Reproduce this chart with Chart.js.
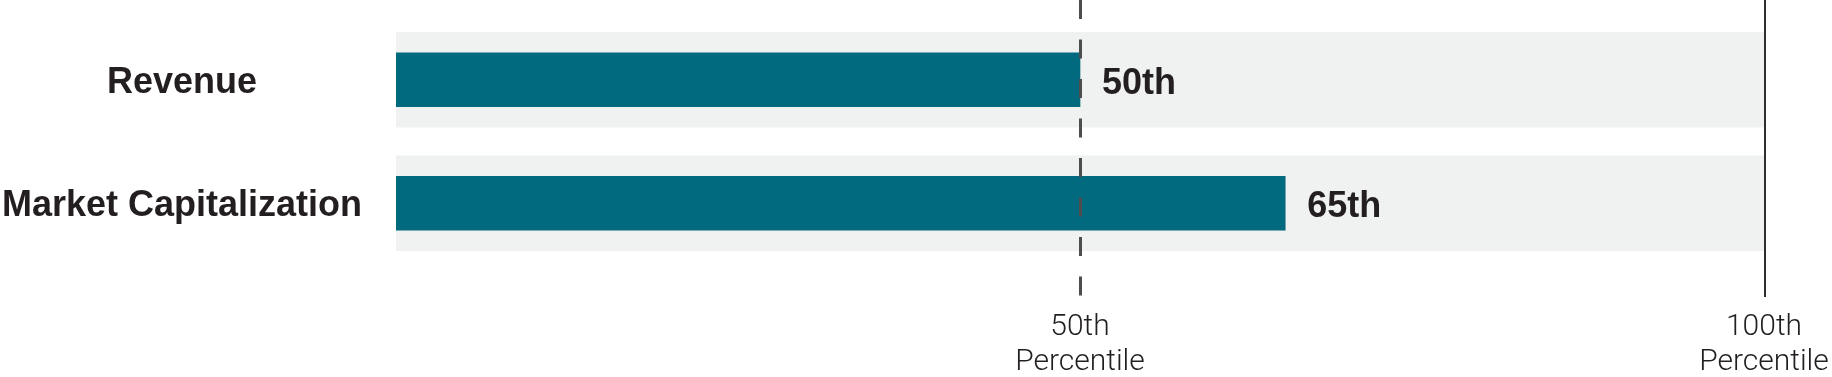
<!DOCTYPE html>
<html>
<head>
<meta charset="utf-8">
<script src="https://cdn.jsdelivr.net/npm/chart.js@4"></script>
<style>
  html, body { margin: 0; padding: 0; background: #ffffff; }
  #wrap { width: 1832px; height: 377px; }
</style>
</head>
<body>
<div id="wrap"><canvas id="c" width="1832" height="377"></canvas></div>
<script>
const categories = ['Revenue', 'Market Capitalization'];
const percentileValues = [50, 65];
const valueLabels = ['50th', '65th'];
const trackValues = [100, 100];
const tickValues = [50, 100];
const tickLabels = [['50th', 'Percentile'], ['100th', 'Percentile']];
const medianValue = 50;
const maxValue = 100;

function zeroPadding(scale) {
  scale.paddingTop = 0;
  scale.paddingBottom = 0;
  scale.paddingLeft = 0;
  scale.paddingRight = 0;
}

const refLines = {
  id: 'refLines',
  afterDatasetsDraw(chart) {
    const ctx = chart.ctx;
    const x = chart.scales.x;
    const xm = x.getPixelForValue(medianValue);
    const xe = x.getPixelForValue(maxValue);
    ctx.save();
    ctx.strokeStyle = '#4d4d4f';
    ctx.lineWidth = 3;
    ctx.setLineDash([19, 20.5]);
    ctx.beginPath();
    ctx.moveTo(xm + 0.5, 0);
    ctx.lineTo(xm + 0.5, 297);
    ctx.stroke();
    ctx.setLineDash([]);
    ctx.strokeStyle = '#2e2e30';
    ctx.lineWidth = 2;
    ctx.beginPath();
    ctx.moveTo(xe + 1, 0);
    ctx.lineTo(xe + 1, 297);
    ctx.stroke();
    ctx.restore();

    const meta = chart.getDatasetMeta(0);
    ctx.save();
    ctx.fillStyle = '#231f20';
    ctx.font = 'bold 36px "Liberation Sans", Arial, sans-serif';
    ctx.textAlign = 'left';
    ctx.textBaseline = 'middle';
    meta.data.forEach((bar, i) => {
      ctx.fillText(valueLabels[i], bar.x + 22, bar.y + 4);
    });
    ctx.restore();
  }
};

new Chart(document.getElementById('c'), {
  type: 'bar',
  data: {
    labels: categories,
    datasets: [
      {
        data: percentileValues,
        backgroundColor: '#016a7f',
        borderWidth: 0,
        barThickness: 54,
        grouped: false,
        order: 0
      },
      {
        data: trackValues,
        backgroundColor: '#f0f1f1',
        borderWidth: 0,
        barThickness: 95,
        grouped: false,
        order: 1
      }
    ]
  },
  options: {
    indexAxis: 'y',
    responsive: false,
    animation: false,
    devicePixelRatio: 1,
    layout: { padding: { top: 18, right: 68, bottom: 0, left: 0 } },
    plugins: { legend: { display: false }, tooltip: { enabled: false } },
    scales: {
      x: {
        type: 'linear',
        min: 0,
        max: maxValue,
        afterFit(scale) { scale.height = 112; zeroPadding(scale); },
        afterBuildTicks(scale) { scale.ticks = tickValues.map(v => ({ value: v })); },
        grid: { display: false, drawTicks: false },
        border: { display: false },
        ticks: {
          autoSkip: false,
          maxRotation: 0,
          padding: 45,
          color: '#231f20',
          font: { family: 'Roboto, "Liberation Sans", sans-serif', size: 30, weight: 300, lineHeight: 1.17 },
          callback(value) {
            const i = tickValues.indexOf(value);
            return i >= 0 ? tickLabels[i] : '';
          }
        }
      },
      y: {
        type: 'category',
        afterFit(scale) { scale.width = 396; zeroPadding(scale); },
        grid: { display: false, drawTicks: false },
        border: { display: false },
        ticks: {
          crossAlign: 'center',
          padding: 34,
          labelOffset: 3,
          color: '#231f20',
          font: { family: '"Liberation Sans", Arial, sans-serif', size: 36, weight: 'bold' }
        }
      }
    }
  },
  plugins: [refLines]
});
</script>
</body>
</html>
